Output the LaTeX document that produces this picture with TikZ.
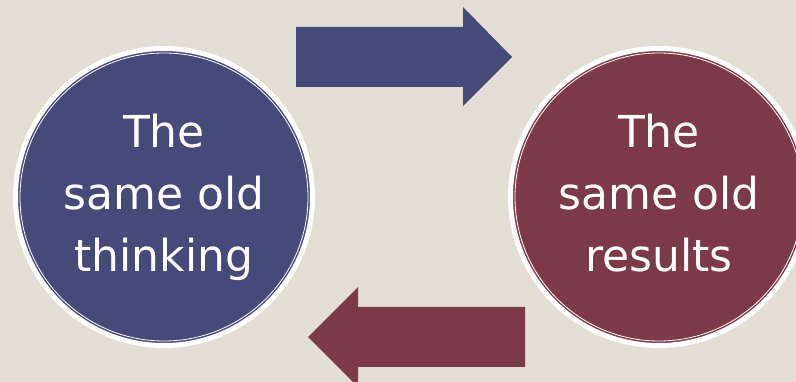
\documentclass[tikz,border=0pt]{standalone}
\usepackage{fontspec}
\newfontfamily\circfont{DejaVu Sans}
\usepackage{xcolor}
\usepackage{tikz}
\usetikzlibrary{positioning, calc}

\definecolor{bgbeige}{RGB}{227,222,211}
\definecolor{oldblue}{RGB}{70,74,120}
\definecolor{oldred}{RGB}{124,58,72}

\begin{document}
\begin{tikzpicture}[
        x=1pt, y=-1pt,
        bubble/.style={circle, draw=white, line width=5pt, minimum size=297pt, inner sep=0pt, align=center, text=white, font=\circfont\fontsize{44}{62}\selectfont},
        ring/.style={draw=white, line width=0.8pt},
        blockarr/.style={draw=none}
    ]
        % Background and frame
        \fill[bgbeige] (0,0) rectangle (796,382);
        \useasboundingbox (0,0) rectangle (796,382);

        % The two circles
        \node[bubble, fill=oldblue] (think) at (164,197) {The\\same old\\thinking};
        \node[bubble, fill=oldred] (result) at (659,197) {The\\same old\\results\vphantom{g}};
        \draw[ring] (think.center) circle (144pt);
        \draw[ring] (result.center) circle (144pt);

        % Block arrow: thinking -> results
        \fill[blockarr, oldblue] (296,27) -- (463,27) -- (463,7) -- (512,57)
            -- (463,106) -- (463,87) -- (296,87) -- cycle;

        % Block arrow: results -> thinking
        \fill[blockarr, oldred] (525,307) -- (358,307) -- (358,287) -- (308,337)
            -- (358,387) -- (358,367) -- (525,367) -- cycle;
    \end{tikzpicture}
\end{document}
